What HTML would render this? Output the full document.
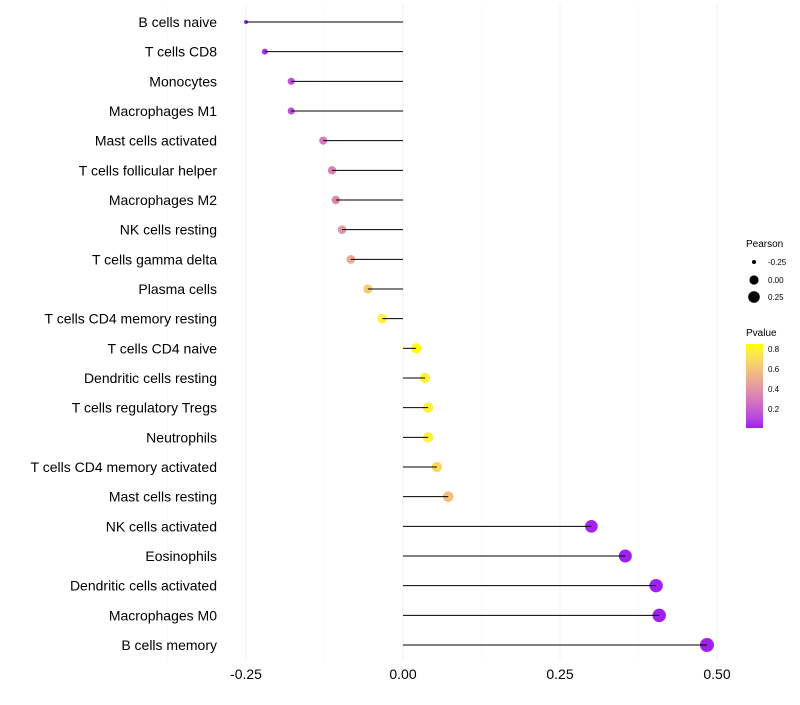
<!DOCTYPE html>
<html><head><meta charset="utf-8"><style>
body{margin:0;background:#fff;font-family:"Liberation Sans",sans-serif;}
svg text{font-family:"Liberation Sans",sans-serif;}
</style></head><body>
<svg id="chart" width="800" height="700" xmlns="http://www.w3.org/2000/svg">
<defs><linearGradient id="pg" x1="0" y1="1" x2="0" y2="0"></linearGradient></defs>
<g id="grid"></g>
<g id="points"></g>
<g id="marks"></g>
<g id="labels"></g>
<g id="xticks"></g>
<g>
<text x="746" y="247" font-size="10" fill="#000">Pearson</text>
<circle cx="754" cy="262" r="2" fill="#000"/><text x="768" y="265" font-size="8">-0.25</text>
<circle cx="754" cy="280" r="4.6" fill="#000"/><text x="768" y="283" font-size="8">0.00</text>
<circle cx="754" cy="297" r="5.8" fill="#000"/><text x="768" y="300" font-size="8">0.25</text>
</g>
<g>
<text x="746" y="336" font-size="10" fill="#000">Pvalue</text>
<rect x="746" y="344" width="17" height="84" fill="url(#pg)"/>
<text x="768" y="352" font-size="8">0.8</text>
<text x="768" y="372" font-size="8">0.6</text>
<text x="768" y="392" font-size="8">0.4</text>
<text x="768" y="412" font-size="8">0.2</text>
</g>
</svg>
<script>
const categories=["B cells naive","T cells CD8","Monocytes","Macrophages M1","Mast cells activated","T cells follicular helper","Macrophages M2","NK cells resting","T cells gamma delta","Plasma cells","T cells CD4 memory resting","T cells CD4 naive","Dendritic cells resting","T cells regulatory  Tregs ","Neutrophils","T cells CD4 memory activated","Mast cells resting","NK cells activated","Eosinophils","Dendritic cells activated","Macrophages M0","B cells memory"];
const pearson=[-0.25,-0.22,-0.178,-0.178,-0.127,-0.113,-0.107,-0.097,-0.083,-0.056,-0.033,0.021,0.035,0.040,0.040,0.054,0.072,0.30,0.354,0.403,0.408,0.484];
const pvalue=[0.02,0.06,0.16,0.16,0.3,0.34,0.36,0.42,0.5,0.65,0.8,0.86,0.8,0.8,0.8,0.7,0.6,0.03,0.02,0.02,0.02,0.02];
const xTicks=[-0.25,0,0.25,0.5];
const xTickLabels=["-0.25","0.00","0.25","0.50"];
const NS="http://www.w3.org/2000/svg";
const x=v=>403+v*628;
const y=i=>22+i*29.667;
const pmin=0.02,pmax=0.86;
function toLin(c){c/=255;return c<=0.04045?c/12.92:Math.pow((c+0.055)/1.055,2.4);}
function fromLin(c){c=c<=0.0031308?12.92*c:1.055*Math.pow(c,1/2.4)-0.055;return Math.round(Math.max(0,Math.min(1,c))*255);}
function rgb2lab(r,g,b){r=toLin(r);g=toLin(g);b=toLin(b);
let X=(0.4124*r+0.3576*g+0.1805*b)/0.95047,Y=0.2126*r+0.7152*g+0.0722*b,Z=(0.0193*r+0.1192*g+0.9505*b)/1.08883;
const f=t=>t>0.008856?Math.cbrt(t):7.787*t+16/116;X=f(X);Y=f(Y);Z=f(Z);return [116*Y-16,500*(X-Y),200*(Y-Z)];}
function lab2rgb(L,a,b){let Y=(L+16)/116,X=a/500+Y,Z=Y-b/200;
const fi=t=>t*t*t>0.008856?t*t*t:(t-16/116)/7.787;X=fi(X)*0.95047;Y=fi(Y);Z=fi(Z)*1.08883;
const r=3.2406*X-1.5372*Y-0.4986*Z,g=-0.9689*X+1.8758*Y+0.0415*Z,bb=0.0557*X-0.2040*Y+1.0570*Z;return [fromLin(r),fromLin(g),fromLin(bb)];}
const LA=rgb2lab(160,32,240),LB=rgb2lab(255,255,0);
function colT(t){t=Math.max(0,Math.min(1,t));const c=lab2rgb(...LA.map((v,k)=>v+(LB[k]-v)*t));return `rgb(${c.join(',')})`;}
function col(p){return colT((p-pmin)/(pmax-pmin));}
function rad(v){return 2+5*Math.sqrt(Math.max(0,(v+0.25)/0.734));}
function mk(tag,attrs,parent){const e=document.createElementNS(NS,tag);for(const k in attrs)e.setAttribute(k,attrs[k]);document.getElementById(parent).appendChild(e);return e;}
for(let i=0;i<=10;i++){mk('stop',{offset:i/10,'stop-color':colT(i/10)},'pg');}
[-0.375,-0.125,0.125,0.375].forEach(v=>{const l=mk('line',{x1:x(v),x2:x(v),y1:5,y2:660,stroke:'#f5f5f5','stroke-width':0.6},'grid');

});
xTicks.forEach((v,i)=>{const l=mk('line',{x1:x(v),x2:x(v),y1:5,y2:660,stroke:'#efefef','stroke-width':1},'grid');


const t=mk('text',{x:x(v),y:679,'font-size':14,'text-anchor':'middle',fill:'#000'},'xticks');t.textContent=xTickLabels[i];

});
categories.forEach((c,i)=>{
const p=mk('circle',{cx:x(pearson[i]),cy:y(i),r:rad(pearson[i]),fill:col(pvalue[i])},'points');


const s=mk('line',{x1:x(0),x2:x(pearson[i]),y1:y(i),y2:y(i),stroke:'#000','stroke-width':1},'marks');


const t=mk('text',{x:217,y:y(i)+5,'font-size':14,'text-anchor':'end',fill:'#000','xml:space':'preserve'},'labels');t.textContent=c;


});
</script>
</body></html>
